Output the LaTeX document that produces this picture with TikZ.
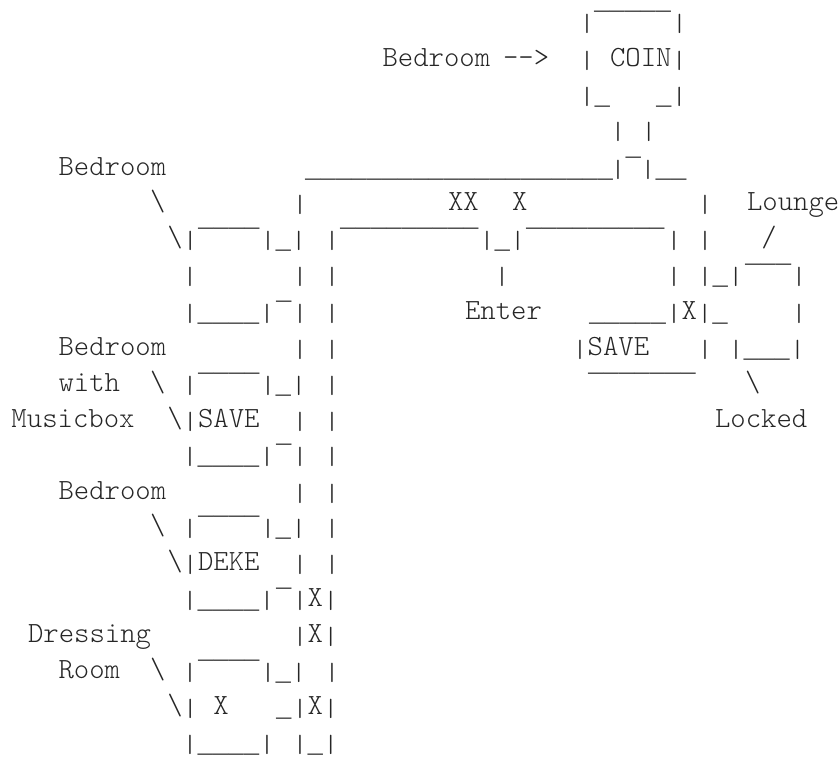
\documentclass[tikz,border=0pt]{standalone}
\usepackage{graphicx}
\usepackage{fontspec}
\newfontfamily\tfont{Latin Modern Mono Light}
\newfontfamily\bfont{Liberation Mono}
\newcounter{tn}
\tikzset{
  txt/.style={anchor=base west,inner sep=0pt,outer sep=0pt,font=\tfont\fontsize{29.3}{30}\selectfont,text=black!85},
  bar/.style={anchor=base west,inner sep=0pt,outer sep=0pt,font=\bfont\fontsize{25.67}{30}\selectfont,text=black!85}
}
% text whose first cell starts at x=#1
\newcommand\Tx[3]{\stepcounter{tn}\node[txt] (t\arabic{tn}) at (#1,#2) {#3};}
% text whose first glyph is centred at x=#1
\newcommand\Tc[3]{\stepcounter{tn}\node[txt] (t\arabic{tn}) at ({#1-7.7},#2) {#3};}
% overline run starting at x=#1 on row with baseline #2
\newcommand\Ol[3]{\stepcounter{tn}\node[bar] (t\arabic{tn}) at (#1,{#2+1}) {#3};}
\newcommand\bs{\textbackslash}
% vertical bar and underscore as the reference prints them
\newcommand\V{\raisebox{-2pt}{\scalebox{1}[0.85]{|}}}
\newcommand\U{\raisebox{-2pt}{\bfont\fontsize{25.67}{30}\selectfont\_}}
\begin{document}
\begin{tikzpicture}[x=1pt,y=-1pt]
\useasboundingbox (0,0) rectangle (838,758);
\begin{scope}[yshift=-1.5pt]
% R0
\Tc{587}{27.5}{\V}\Ol{594}{27.5}{‾‾‾‾‾}\Tc{679.5}{27.5}{\V}
% R1
\Tx{382.5}{64.5}{Bedroom}\Tx{503}{64.5}{-->}\Tc{587}{64.5}{\V~COIN\V}
% R2
\Tc{587}{101}{\V\U~~~\U\V}
% R3
\Tc{618}{136}{\V~\V}
% R4
\Tx{58.5}{174}{Bedroom}\Tx{305}{174}{\U\U\U\U\U\U\U\U\U\U\U\U\U\U\U\U\U\U\U\U}\Tc{618}{174}{\V}\Ol{625.5}{174}{‾}\Tc{648}{174}{\V\U\U}
% R5
\Tx{150}{208.5}{\bs}\Tc{300}{208.5}{\V}\Tx{448}{208.5}{XX}\Tx{512}{208.5}{X}\Tc{705}{208.5}{\V}\Tx{747}{208.5}{Lounge}
% R6
\Tc{175}{244.5}{\bs\V}\Ol{198}{244.5}{‾‾‾‾}\Tc{268}{244.5}{\V\U\V}\Tc{332}{244.5}{\V}\Ol{340}{244.5}{‾‾‾‾‾‾‾‾‾}\Tc{487}{244.5}{\V\U\V}\Ol{526}{244.5}{‾‾‾‾‾‾‾‾‾}\Tc{674}{244.5}{\V}\Tc{705}{244.5}{\V}\Tc{769}{244.5}{/}
% R7
\Tc{190}{280.5}{\V}\Tc{300}{280.5}{\V}\Tc{332}{280.5}{\V}\Tc{502}{280.5}{\V}\Tc{674}{280.5}{\V}\Tc{705}{280.5}{\V\U\V}\Ol{745}{280.5}{‾‾‾}\Tc{799}{280.5}{\V}
% R8
\Tc{190}{317.5}{\V\U\U\U\U\V}\Ol{276}{317.5}{‾}\Tc{300}{317.5}{\V}\Tc{332}{317.5}{\V}\Tx{465}{317.5}{Enter}\Tx{589}{317.5}{\U\U\U\U\U}\Tc{674}{317.5}{\V X\V\U}\Tc{799}{317.5}{\V}
% R9
\Tx{58.5}{353.5}{Bedroom}\Tc{300}{353.5}{\V}\Tc{332}{353.5}{\V}\Tc{580}{353.5}{\V SAVE}\Tc{705}{353.5}{\V}\Tc{736}{353.5}{\V\U\U\U\V}
% R10
\Tx{58.5}{389.5}{with}\Tx{150}{389.5}{\bs}\Tc{190}{389.5}{\V}\Ol{198}{389.5}{‾‾‾‾}\Tc{268}{389.5}{\V\U\V}\Tc{332}{389.5}{\V}\Ol{588}{389.5}{‾‾‾‾‾‾‾}\Tx{745}{389.5}{\bs}
% R11
\Tx{11.5}{425.5}{Musicbox}\Tc{175}{425.5}{\bs\V SAVE}\Tc{300}{425.5}{\V}\Tc{332}{425.5}{\V}\Tx{715}{425.5}{Locked}
% R12
\Tc{190}{460.5}{\V\U\U\U\U\V}\Ol{276}{460.5}{‾}\Tc{300}{460.5}{\V}\Tc{332}{460.5}{\V}
% R13
\Tx{58.5}{497.5}{Bedroom}\Tc{300}{497.5}{\V}\Tc{332}{497.5}{\V}
% R14
\Tx{150}{532.5}{\bs}\Tc{190}{532.5}{\V}\Ol{198}{532.5}{‾‾‾‾}\Tc{268}{532.5}{\V\U\V}\Tc{332}{532.5}{\V}
% R15
\Tc{175}{569}{\bs\V DEKE}\Tc{300}{569}{\V}\Tc{332}{569}{\V}
% R16
\Tc{190}{605}{\V\U\U\U\U\V}\Ol{276}{605}{‾}\Tc{300}{605}{\V X\V}
% R17
\Tx{28}{640.5}{Dressing}\Tc{300}{640.5}{\V X\V}
% R18
\Tx{58.5}{677}{Room}\Tx{150}{677}{\bs}\Tc{190}{677}{\V}\Ol{198}{677}{‾‾‾‾}\Tc{268}{677}{\V\U\V}\Tc{332}{677}{\V}
% R19
\Tc{175}{713}{\bs\V~X}\Tx{276}{713}{\U}\Tc{300}{713}{\V X\V}
% R20
\Tc{190}{749}{\V\U\U\U\U\V}\Tc{300}{749}{\V\U\V}
\end{scope}
\end{tikzpicture}
\end{document}
